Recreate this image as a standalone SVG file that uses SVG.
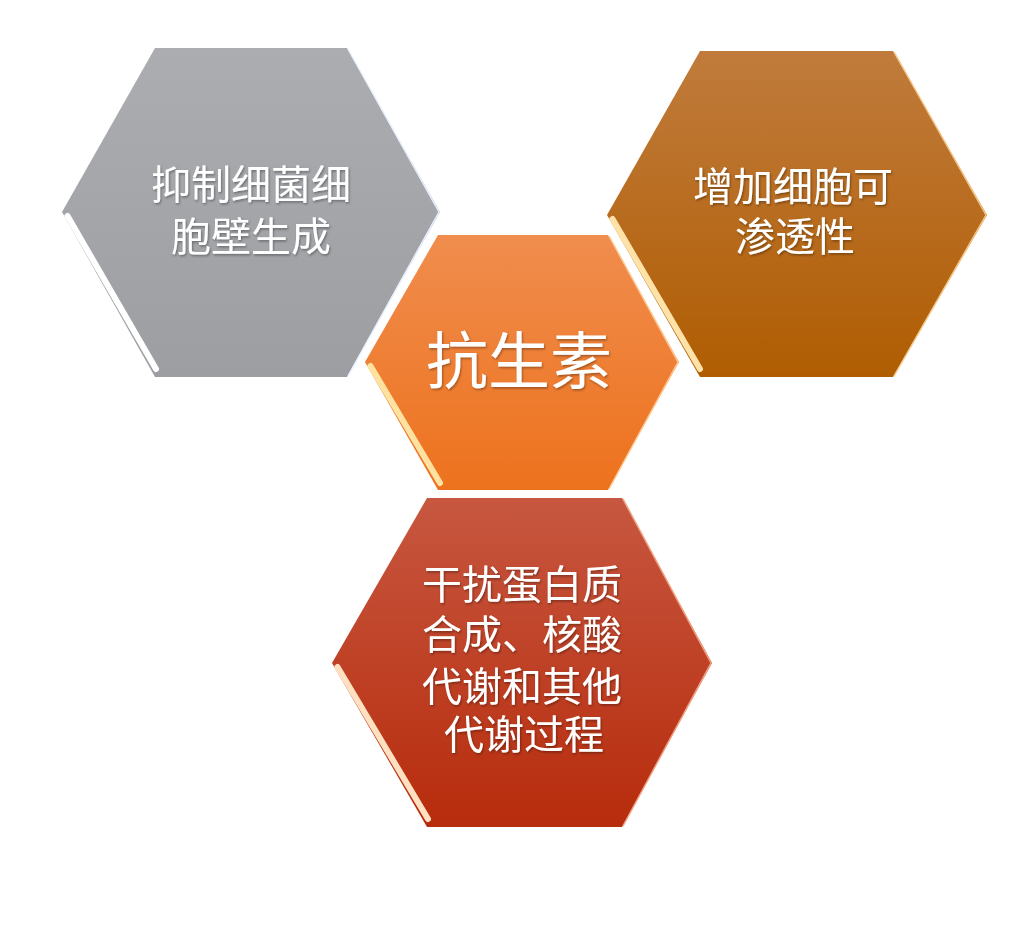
<svg xmlns="http://www.w3.org/2000/svg" width="1020" height="930" viewBox="0 0 1020 930">
  <defs>
    <linearGradient id="gGray" x1="0" y1="0" x2="0" y2="1">
      <stop offset="0" stop-color="#abadb1"/>
      <stop offset="1" stop-color="#9c9ea2"/>
    </linearGradient>
    <linearGradient id="gOrange" x1="0" y1="0" x2="0" y2="1">
      <stop offset="0" stop-color="#f08d4e"/>
      <stop offset="1" stop-color="#ed721d"/>
    </linearGradient>
    <linearGradient id="gBrown" x1="0" y1="0" x2="0" y2="1">
      <stop offset="0" stop-color="#c07b3c"/>
      <stop offset="1" stop-color="#b05d02"/>
    </linearGradient>
    <linearGradient id="gRed" x1="0" y1="0" x2="0" y2="1">
      <stop offset="0" stop-color="#c75740"/>
      <stop offset="1" stop-color="#b72c0c"/>
    </linearGradient>
    <filter id="ts" x="-10%" y="-10%" width="120%" height="120%">
      <feDropShadow dx="1" dy="1.5" stdDeviation="0.8" flood-color="#000" flood-opacity="0.35"/>
    </filter>
    <filter id="soft" x="-5%" y="-5%" width="110%" height="110%">
      <feGaussianBlur stdDeviation="0.6"/>
    </filter>
  </defs>
  <style>
    .lbl { font-family: "Liberation Sans", "Noto Sans CJK SC", sans-serif; fill: #ffffff; text-anchor: middle; dominant-baseline: central; filter: url(#ts); }
    .s40 { font-size: 40px; }
    .s62 { font-size: 62px; }
    .hl { fill: none; stroke-linecap: round; stroke-width: 6; filter: url(#soft); }
    .thin { fill: none; stroke-width: 1.5; }
  </style>
  <rect x="0" y="0" width="1020" height="930" fill="#ffffff"/>

  <g id="node-cell-wall">
    <polygon points="62,212 155,48 347,48 440,212 347,377 155,377" fill="url(#gGray)"/>
    <line class="hl" x1="162" y1="52.5" x2="340" y2="52.5" stroke="#ffffff"/>
    <line class="hl" x1="67.5" y1="216" x2="156" y2="369" stroke="#ffffff"/>
    <polyline class="thin" points="348,49 439,212 348,376" stroke="#e8f0ff"/>
    <text class="lbl s40" x="251" y="185">抑制细菌细</text>
    <text class="lbl s40" x="251" y="237">胞壁生成</text>
  </g>

  <g id="node-permeability">
    <polygon points="607,215 700,51 893,51 987,215 893,377 700,377" fill="url(#gBrown)"/>
    <line class="hl" x1="707" y1="55.5" x2="886" y2="55.5" stroke="#ffd89a"/>
    <line class="hl" x1="612.5" y1="219" x2="700" y2="369" stroke="#ffe2a8"/>
    <polyline class="thin" points="894,52 986,215 894,376" stroke="#f5c585"/>
    <text class="lbl s40" x="793" y="187">增加细胞可</text>
    <text class="lbl s40" x="795" y="237">渗透性</text>
  </g>

  <g id="node-antibiotic">
    <polygon points="365,362 438,235 608,235 679,362 608,490 438,490" fill="url(#gOrange)"/>
    <line class="hl" x1="444" y1="239.5" x2="602" y2="239.5" stroke="#ffe0a8"/>
    <line class="hl" x1="370.5" y1="366" x2="440" y2="483" stroke="#ffe2a0"/>
    <polyline class="thin" points="609,236 678,362 609,489" stroke="#ffc890"/>
    <text class="lbl s62" x="519" y="362">抗生素</text>
  </g>

  <g id="node-protein">
    <polygon points="332,663 427,498 622,498 712,663 622,827 427,827" fill="url(#gRed)"/>
    <line class="hl" x1="434" y1="502.5" x2="615" y2="502.5" stroke="#ffc8a8"/>
    <line class="hl" x1="337.5" y1="667" x2="428" y2="819" stroke="#ffe0c0"/>
    <polyline class="thin" points="623,499 711,663 623,826" stroke="#f0a080"/>
    <text class="lbl s40" x="522" y="585">干扰蛋白质</text>
    <text class="lbl s40" x="522" y="635">合成、核酸</text>
    <text class="lbl s40" x="522" y="687">代谢和其他</text>
    <text class="lbl s40" x="524" y="735">代谢过程</text>
  </g>

  <g id="connectors"></g>
</svg>
